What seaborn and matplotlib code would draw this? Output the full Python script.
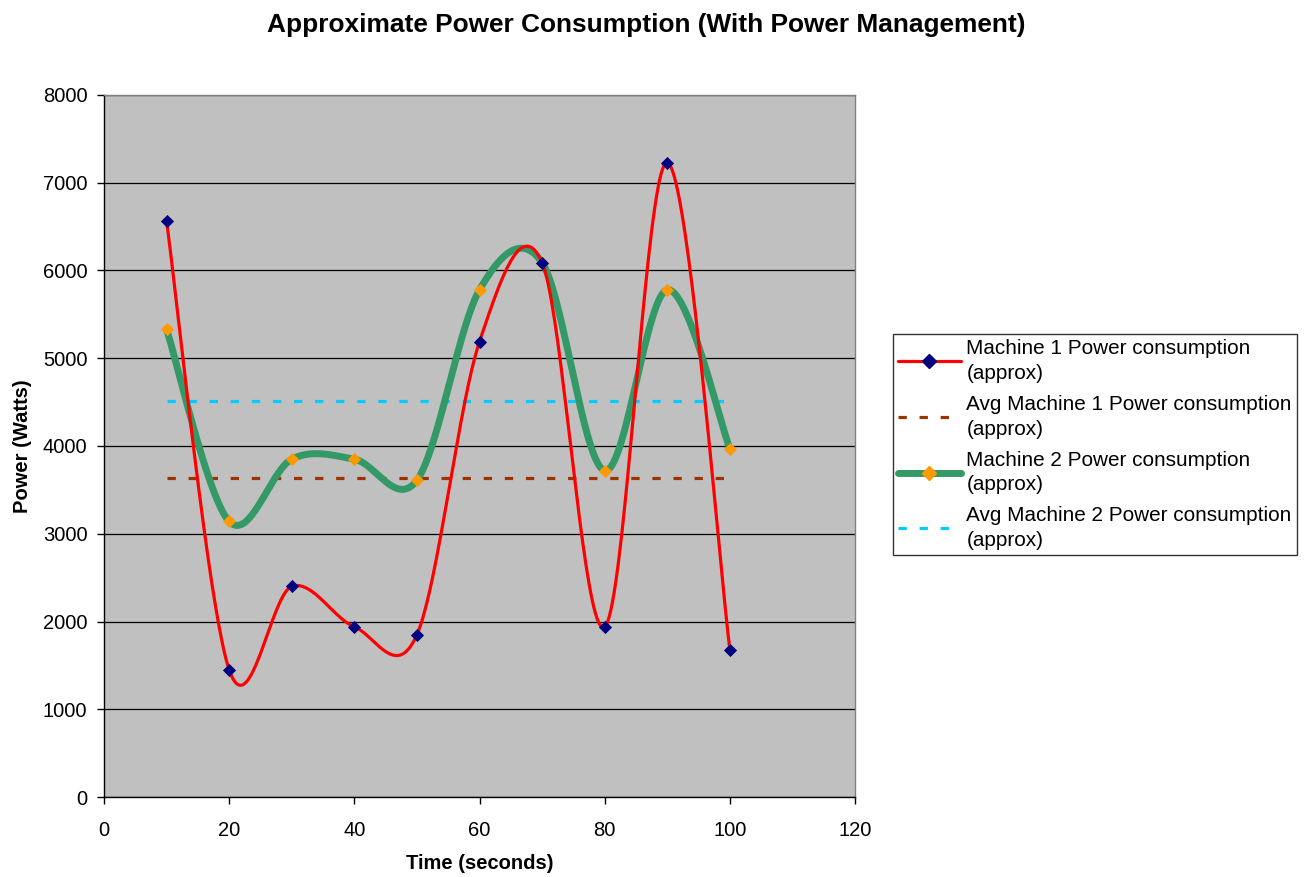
import numpy as np
import pandas as pd
import matplotlib
matplotlib.use("Agg")
import matplotlib.pyplot as plt
import seaborn as sns
from matplotlib.lines import Line2D

# ---- data ----
time_s = [10, 20, 30, 40, 50, 60, 70, 80, 90, 100]
machine1 = [6560, 1450, 2400, 1940, 1850, 5190, 6090, 1940, 7230, 1680]
machine2 = [5330, 3140, 3850, 3850, 3610, 5780, 6090, 3720, 5780, 3970]
labels = ["Machine 1 Power consumption\n(approx)",
          "Avg Machine 1 Power consumption\n(approx)",
          "Machine 2 Power consumption\n(approx)",
          "Avg Machine 2 Power consumption\n(approx)"]
x_ticks = [0, 20, 40, 60, 80, 100, 120]
y_ticks = [0, 1000, 2000, 3000, 4000, 5000, 6000, 7000, 8000]

sns.set_theme(style="white")
plt.rcParams['font.family'] = ['Liberation Sans', 'DejaVu Sans']
plt.rcParams['text.color'] = 'black'
plt.rcParams['axes.labelcolor'] = 'black'

fig = plt.figure(figsize=(13.05, 8.77), dpi=100)
ax = fig.add_axes([0.0797, 0.0912, 0.5755, 0.8005])
ax.set_facecolor("#C0C0C0")


def smooth(xs, ys, n=40):
    # Catmull-Rom style Bezier smoothing (like Excel's smoothed lines)
    xs = np.asarray(xs, float); ys = np.asarray(ys, float)
    sx = 1.0 / 120.0; sy = 1.0 / 8000.0 * (702 / 751)
    px = xs * sx; py = ys * sy
    outx, outy = [], []
    m = len(px)
    for i in range(m - 1):
        p0 = (px[max(i - 1, 0)], py[max(i - 1, 0)])
        p1 = (px[i], py[i]); p2 = (px[i + 1], py[i + 1])
        p3 = (px[min(i + 2, m - 1)], py[min(i + 2, m - 1)])
        c1 = (p1[0] + (p2[0] - p0[0]) / 6, p1[1] + (p2[1] - p0[1]) / 6)
        c2 = (p2[0] - (p3[0] - p1[0]) / 6, p2[1] - (p3[1] - p1[1]) / 6)
        t = np.linspace(0, 1, n, endpoint=(i == m - 2))
        bx = (1-t)**3*p1[0] + 3*(1-t)**2*t*c1[0] + 3*(1-t)*t**2*c2[0] + t**3*p2[0]
        by = (1-t)**3*p1[1] + 3*(1-t)**2*t*c1[1] + 3*(1-t)*t**2*c2[1] + t**3*p2[1]
        outx.extend(bx / sx); outy.extend(by / sy)
    return np.array(outx), np.array(outy)


avg1 = float(np.mean(machine1))
avg2 = float(np.mean(machine2))

red, navy = "#FF0000", "#000080"
green, orange = "#339966", "#FF9900"
brown, cyan = "#993300", "#00CCFF"

# averages
ax.plot([time_s[0], time_s[-1]], [avg1, avg1], color=brown, lw=2.3,
        dashes=(2.6, 4.0), zorder=3)
ax.plot([time_s[0], time_s[-1]], [avg2, avg2], color=cyan, lw=2.3,
        dashes=(2.6, 4.0), zorder=3)

# machine 2 smooth line
sx2, sy2 = smooth(time_s, machine2)
ax.plot(sx2, sy2, color=green, lw=5, solid_capstyle="round", zorder=4)
sns.scatterplot(x=time_s, y=machine2, ax=ax, marker="D", s=45, color=orange,
                edgecolor=orange, linewidth=0, zorder=5)

# machine 1 smooth line
sx1, sy1 = smooth(time_s, machine1)
ax.plot(sx1, sy1, color=red, lw=2.3, zorder=6)
sns.scatterplot(x=time_s, y=machine1, ax=ax, marker="D", s=45, color=navy,
                edgecolor=navy, linewidth=0, zorder=7)

ax.set_xlim(0, 120)
ax.set_ylim(0, 8000)
ax.set_xticks(x_ticks)
ax.set_yticks(y_ticks)
ax.set_xticklabels([str(v) for v in x_ticks], fontsize=14.5)
ax.set_yticklabels([str(v) for v in y_ticks], fontsize=14.5)
ax.yaxis.grid(True, color="black", lw=0.9)
ax.set_axisbelow(True)
ax.tick_params(axis="x", which="major", direction="out", length=5,
               width=1, color="black", bottom=True, pad=12, labelcolor="black")
ax.tick_params(axis="y", which="major", direction="out", length=5,
               width=1, color="black", left=True, pad=7, labelcolor="black")
for side in ["left", "bottom"]:
    ax.spines[side].set_color("black")
    ax.spines[side].set_linewidth(1)
for side in ["top", "right"]:
    ax.spines[side].set_color("#808080")
    ax.spines[side].set_linewidth(1)
    ax.spines[side].set_visible(True)

ax.set_xlabel("Time (seconds)", fontsize=14.5, fontweight="bold", labelpad=10)
ax.set_ylabel("Power (Watts)", fontsize=14.5, fontweight="bold", labelpad=8)
fig.suptitle("Approximate Power Consumption (With Power Management)",
             x=0.495, y=0.972, va="center", fontsize=18.9, fontweight="bold",
             color="black")

handles = [
    Line2D([0], [0], color=red, lw=2.3, marker="D", markersize=7,
           markerfacecolor=navy, markeredgecolor=navy),
    Line2D([0], [0], color=brown, lw=2.3, dashes=(2.6, 4.0)),
    Line2D([0], [0], color=green, lw=5, marker="D", markersize=7,
           markerfacecolor=orange, markeredgecolor=orange),
    Line2D([0], [0], color=cyan, lw=2.3, dashes=(2.6, 4.0)),
]
leg = fig.legend(handles, labels, loc="center left",
                 bbox_to_anchor=(0.684, 0.493), fontsize=14.95,
                 frameon=True, fancybox=False, edgecolor="black",
                 handlelength=3.05, handletextpad=0.25, labelspacing=0.58,
                 borderpad=0.25, borderaxespad=0)
for t in leg.get_texts():
    t.set_linespacing(1.37)
leg.get_frame().set_linewidth(1)

fig.savefig("out.png", dpi=100, facecolor="white")
